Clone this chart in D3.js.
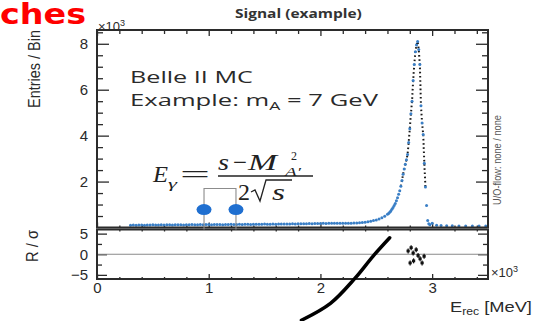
<!DOCTYPE html>
<html>
<head>
<meta charset="utf-8">
<script src="https://cdn.jsdelivr.net/npm/d3@7"></script>
<style>
  html, body { margin: 0; padding: 0; background: #fff; overflow: hidden; }
  svg { display: block; }
</style>
</head>
<body>
<svg id="chart" width="550" height="321"></svg>
<script>
// ---- data (energies in 10^3 MeV, entries in 10^3 per bin) ----
// broad low-energy part: fixed-width bins starting at lowBinStart
const lowBinStart = 0.30;
const lowBinWidth = 0.025;
const lowEntries = [
  0.10, 0.11, 0.10, 0.11, 0.11, 0.10, 0.11, 0.11, 0.12, 0.11, 0.11, 0.12, 0.11, 0.12,
  0.12, 0.11, 0.12, 0.12, 0.12, 0.11, 0.12, 0.12, 0.13, 0.12, 0.12, 0.13, 0.12, 0.13,
  0.13, 0.12, 0.13, 0.13, 0.13, 0.12, 0.13, 0.13, 0.14, 0.13, 0.13, 0.14, 0.13, 0.14,
  0.14, 0.13, 0.14, 0.14, 0.14, 0.14, 0.15, 0.14, 0.14, 0.15, 0.14, 0.15, 0.15, 0.15,
  0.15, 0.15, 0.16, 0.15, 0.16, 0.16, 0.16, 0.16, 0.17, 0.16, 0.17, 0.17, 0.17, 0.18,
  0.17, 0.18, 0.18, 0.19, 0.18, 0.19,
  0.18, 0.18, 0.19, 0.19, 0.20, 0.20, 0.21, 0.22, 0.23, 0.25, 0.27, 0.30, 0.33, 0.37,
  0.42, 0.49
];

// peak region, finer binning
const peakEnergy = [
  2.60, 2.61, 2.62, 2.63, 2.64, 2.65, 2.66, 2.67, 2.68, 2.69, 2.70, 2.71, 2.72, 2.73,
  2.74, 2.75, 2.76, 2.77, 2.78, 2.79, 2.80, 2.81, 2.82, 2.83, 2.84, 2.85, 2.86, 2.87,
  2.88, 2.89, 2.90, 2.91, 2.92, 2.93, 2.94, 2.95, 2.96
];
const peakEntries = [
  0.58, 0.61, 0.66, 0.72, 0.79, 0.87, 0.96, 1.05, 1.17, 1.30, 1.45, 1.60, 1.80, 2.05,
  2.32, 2.55, 2.75, 2.95, 3.18, 3.70, 4.30, 4.95, 5.50, 6.40, 7.10, 7.65, 7.95, 8.10,
  7.75, 7.10, 5.30, 4.55, 4.05, 2.80, 1.76, 0.96, 0.30
];

// high-energy tail
const tailEnergy = [2.97, 2.98, 3.00, 3.04, 3.08, 3.13, 3.18, 3.24, 3.30, 3.36, 3.42, 3.48];
const tailEntries = [0.16, 0.12, 0.18, 0.10, 0.09, 0.08, 0.08, 0.07, 0.07, 0.06, 0.06, 0.06];

// residuals R / sigma in the lower panel
const ratioEnergy = [2.785, 2.803, 2.812, 2.830, 2.834, 2.857, 2.874, 2.892, 2.910, 2.928];
const ratioPull   = [0.8, -2.1, 1.6, 0.3, -1.6, 1.1, -0.3, -1.1, -2.1, -0.5];

// overlaid annotation stroke (energy, R / sigma units)
const strokeEnergy = [1.83, 2.09, 2.31, 2.47, 2.62];
const strokePull   = [-16.0, -11.9, -5.8, -0.5, 4.0];

// photon energy markers with bracket
const markerEnergy = [0.958, 1.244];
const markerLevel = 0.78;
const bracketLevel = 1.70;

const entryTicks = [2, 4, 6, 8];
const pullTicks = [-5, 0, 5];
const energyTicks = [0, 1, 2, 3];

// ---- layout ----
const svg = d3.select('#chart');
const L = 97, R = 488;
const mainTop = 30, mainBottom = 227.5;
const ratTop = 229.5, ratBottom = 279;
const ink = '#2b2b2b';
const pointBlue = '#3a7fc6';

const x = d3.scaleLinear().domain([0, 3.5]).range([L, R]);
const y = d3.scaleLinear().domain([0, 8.6]).range([mainBottom, mainTop]);
const yr = d3.scaleLinear().domain([-6, 6]).range([ratBottom, ratTop]);

const sansFont = '"Liberation Sans", Arial, sans-serif';

// fit a text element to a given width by horizontal scaling
function fitWidth(sel, width, tx, ty, rotate) {
  const len = sel.node().getComputedTextLength();
  const s = width / len;
  sel.attr('transform', `translate(${tx},${ty})` + (rotate ? ` rotate(${rotate})` : '') + ` scale(${s},1)`);
}

// ---- red heading fragment ----
const heading = svg.append('text')
  .attr('font-family', '"DejaVu Sans", sans-serif')
  .attr('font-weight', 'bold')
  .attr('font-size', 29)
  .attr('fill', '#ff0000')
  .text('ches');
fitWidth(heading, 86, 0, 24);

// ---- title ----
const title = svg.append('text')
  .attr('font-family', '"Open Sans", sans-serif')
  .attr('font-weight', 'bold')
  .attr('font-size', 12)
  .attr('fill', '#333')
  .text('Signal (example)');
fitWidth(title, 127, 235, 18);

// ---- axes helpers ----
function styleAxis(g) {
  g.select('.domain').remove();
  g.selectAll('.tick line').attr('stroke', ink).attr('stroke-width', 1.3);
  g.selectAll('.tick text').attr('fill', '#2a2a2a').attr('font-family', sansFont).attr('font-size', 15);
}
function minorValues(lo, hi, step, majors) {
  return d3.range(lo, hi + 1e-9, step).filter(v => !majors.some(m => Math.abs(m - v) < 1e-6));
}

const energyMinor = minorValues(0, 3.5, 0.2, energyTicks);
const entryMinor = minorValues(0.5, 8.5, 0.5, entryTicks);
const pullMinor = [-2.5, 2.5];

// main panel, left
svg.append('g').attr('transform', `translate(${L},0)`)
  .call(d3.axisLeft(y).tickValues(entryTicks).tickSizeInner(-12).tickSizeOuter(0).tickPadding(9).tickFormat(d3.format('d')))
  .call(styleAxis);
svg.append('g').attr('transform', `translate(${L},0)`)
  .call(d3.axisLeft(y).tickValues(entryMinor).tickSizeInner(-6).tickSizeOuter(0).tickFormat(''))
  .call(styleAxis);
// main panel, right
svg.append('g').attr('transform', `translate(${R},0)`)
  .call(d3.axisRight(y).tickValues(entryTicks).tickSizeInner(-12).tickSizeOuter(0).tickFormat(''))
  .call(styleAxis);
svg.append('g').attr('transform', `translate(${R},0)`)
  .call(d3.axisRight(y).tickValues(entryMinor).tickSizeInner(-6).tickSizeOuter(0).tickFormat(''))
  .call(styleAxis);
// main panel, top
svg.append('g').attr('transform', `translate(0,${mainTop})`)
  .call(d3.axisTop(x).tickValues(energyTicks).tickSizeInner(-6).tickSizeOuter(0).tickFormat(''))
  .call(styleAxis);
svg.append('g').attr('transform', `translate(0,${mainTop})`)
  .call(d3.axisTop(x).tickValues(energyMinor).tickSizeInner(-4).tickSizeOuter(0).tickFormat(''))
  .call(styleAxis);
// main panel, bottom
svg.append('g').attr('transform', `translate(0,${mainBottom})`)
  .call(d3.axisBottom(x).tickValues(energyTicks).tickSizeInner(-5).tickSizeOuter(0).tickFormat(''))
  .call(styleAxis);
svg.append('g').attr('transform', `translate(0,${mainBottom})`)
  .call(d3.axisBottom(x).tickValues(energyMinor).tickSizeInner(-2).tickSizeOuter(0).tickFormat(''))
  .call(styleAxis);

// ratio panel, left
svg.append('g').attr('transform', `translate(${L},0)`)
  .call(d3.axisLeft(yr).tickValues(pullTicks).tickSizeInner(-10).tickSizeOuter(0).tickPadding(9)
    .tickFormat(d => d < 0 ? '\u2212' + Math.abs(d) : String(d)))
  .call(styleAxis);
svg.append('g').attr('transform', `translate(${L},0)`)
  .call(d3.axisLeft(yr).tickValues(pullMinor).tickSizeInner(-5).tickSizeOuter(0).tickFormat(''))
  .call(styleAxis);
// ratio panel, right
svg.append('g').attr('transform', `translate(${R},0)`)
  .call(d3.axisRight(yr).tickValues(pullTicks).tickSizeInner(-10).tickSizeOuter(0).tickFormat(''))
  .call(styleAxis);
svg.append('g').attr('transform', `translate(${R},0)`)
  .call(d3.axisRight(yr).tickValues(pullMinor).tickSizeInner(-5).tickSizeOuter(0).tickFormat(''))
  .call(styleAxis);
// ratio panel, bottom (with energy labels)
svg.append('g').attr('transform', `translate(0,${ratBottom})`)
  .call(d3.axisBottom(x).tickValues(energyTicks).tickSizeInner(-5).tickSizeOuter(0).tickPadding(3).tickFormat(d3.format('d')))
  .call(styleAxis)
  .call(g => g.selectAll('.tick text').attr('dy', '0.71em').attr('y', 3));
svg.append('g').attr('transform', `translate(0,${ratBottom})`)
  .call(d3.axisBottom(x).tickValues(energyMinor).tickSizeInner(-2).tickSizeOuter(0).tickFormat(''))
  .call(styleAxis);
// ratio panel, top
svg.append('g').attr('transform', `translate(0,${ratTop})`)
  .call(d3.axisTop(x).tickValues(energyMinor).tickSizeInner(-2).tickSizeOuter(0).tickFormat(''))
  .call(styleAxis);

// zero line in ratio panel
svg.append('line')
  .attr('x1', L).attr('x2', R)
  .attr('y1', yr(0)).attr('y2', yr(0))
  .attr('stroke', '#8a8a8a').attr('stroke-width', 1);

// ---- data marks ----
const lowPoints = lowEntries.map((v, i) => ({ e: lowBinStart + i * lowBinWidth, v }));
const peakPoints = peakEnergy.map((e, i) => ({ e, v: peakEntries[i] }));
const tailPoints = tailEnergy.map((e, i) => ({ e, v: tailEntries[i] }));
const allPoints = lowPoints.concat(peakPoints, tailPoints);

// dotted connection through the steep part of the peak
const steep = peakPoints.filter(d => d.v >= 1.7);
svg.append('path')
  .datum(steep)
  .attr('d', d3.line().x(d => x(d.e)).y(d => y(d.v)))
  .attr('fill', 'none')
  .attr('stroke', '#1a1a1a')
  .attr('stroke-width', 2)
  .attr('stroke-dasharray', '1.6,2.6');

svg.append('g')
  .selectAll('circle')
  .data(allPoints)
  .join('circle')
  .attr('cx', d => x(d.e))
  .attr('cy', d => y(d.v))
  .attr('r', 1.5)
  .attr('fill', pointBlue);

// residual markers
const rg = svg.append('g');
ratioEnergy.forEach((e, i) => {
  const cx = x(e), cy = yr(ratioPull[i]);
  rg.append('line').attr('x1', cx).attr('x2', cx).attr('y1', cy - 2.5).attr('y2', cy + 2.5)
    .attr('stroke', '#111').attr('stroke-width', 1.2);
  rg.append('rect').attr('x', cx - 1.6).attr('y', cy - 1.4).attr('width', 3.2).attr('height', 2.8)
    .attr('fill', '#111');
});

// ---- frames ----
[[mainTop, mainBottom], [ratTop, ratBottom]].forEach(([t, b]) => {
  svg.append('rect')
    .attr('x', L).attr('y', t)
    .attr('width', R - L).attr('height', b - t)
    .attr('fill', 'none')
    .attr('stroke', ink)
    .attr('stroke-width', 2);
});

// ---- axis titles ----
const yTitle = svg.append('text')
  .attr('font-family', sansFont).attr('font-size', 16).attr('fill', '#2a2a2a')
  .attr('text-anchor', 'middle')
  .text('Entries / Bin');
fitWidth(yTitle, 78, 40, 69, -90);

const rTitle = svg.append('text')
  .attr('font-family', sansFont).attr('font-size', 16).attr('fill', '#2a2a2a')
  .attr('text-anchor', 'middle')
  .text('R / \u03c3');
fitWidth(rTitle, 32, 38, 246, -90);

const xTitle = svg.append('text')
  .attr('font-family', sansFont).attr('font-size', 15).attr('fill', '#2a2a2a');
xTitle.append('tspan').text('E');
xTitle.append('tspan').attr('font-size', 10).attr('dy', 3).text('rec');
xTitle.append('tspan').attr('dy', -3).text(' [MeV]');
fitWidth(xTitle, 82, 450, 312);

// exponent labels
function exponentLabel(tx, ty) {
  const t = svg.append('text')
    .attr('font-family', sansFont).attr('font-size', 13).attr('fill', '#2a2a2a')
    .attr('x', tx).attr('y', ty);
  t.append('tspan').text('\u00d710');
  t.append('tspan').attr('font-size', 9).attr('dy', -5).text('3');
}
exponentLabel(98, 31);
exponentLabel(491, 277);

// overflow note
const ouf = svg.append('text')
  .attr('font-family', '"Liberation Sans Narrow", "Liberation Sans", sans-serif')
  .attr('font-size', 10).attr('fill', '#555')
  .attr('text-anchor', 'middle')
  .text('U/O-flow: none / none');
fitWidth(ouf, 90, 501, 160, -90);

// ---- in-plot labels ----
const lab1 = svg.append('text')
  .attr('font-family', '"Open Sans", sans-serif').attr('font-size', 16).attr('fill', '#2a2a2a')
  .text('Belle II MC');
fitWidth(lab1, 123, 130, 83);

const lab2 = svg.append('text')
  .attr('font-family', '"Open Sans", sans-serif').attr('font-size', 16).attr('fill', '#2a2a2a');
lab2.append('tspan').text('Example: m');
lab2.append('tspan').attr('font-size', 11).attr('dy', 4).text('A');
lab2.append('tspan').attr('dy', -4).text(' = 7 GeV');
fitWidth(lab2, 248, 130, 106);

// ---- formula E_gamma = (s - M^2_A') / (2 sqrt(s)) ----
const serif = '"Liberation Serif", "DejaVu Serif", serif';
const fg = svg.append('g').attr('font-family', serif).attr('fill', '#222');
function ftext(str, width, tx, ty, size, italic) {
  const t = fg.append('text').attr('font-size', size).attr('font-style', italic ? 'italic' : 'normal').text(str);
  fitWidth(t, width, tx, ty);
  return t;
}
ftext('E', 15, 153, 182, 23, true);
ftext('\u03b3', 9, 168, 188, 13, true);
ftext('=', 30, 180, 182, 23, false);
ftext('s', 11, 218, 170, 23, true);
ftext('\u2212', 14, 233, 170, 23, false);
ftext('M', 29, 248, 170, 24, true);
ftext('2', 6, 291, 160, 12, false);
ftext('A\u2032', 16, 285, 176, 12, true);
fg.append('line').attr('x1', 218).attr('x2', 313).attr('y1', 176).attr('y2', 176)
  .attr('stroke', '#222').attr('stroke-width', 1.3);
ftext('2', 12, 238, 200, 23, false);
ftext('s', 13, 272, 200, 23, true);
fg.append('path')
  .attr('d', 'M251,192 L255,190 L260,201 L266,180 L292,180')
  .attr('fill', 'none').attr('stroke', '#222').attr('stroke-width', 1.3);

// ---- photon energy markers with bracket ----
const bracket = d3.path();
bracket.moveTo(x(markerEnergy[0]), ratTop);
bracket.lineTo(x(markerEnergy[0]), y(bracketLevel));
bracket.lineTo(x(markerEnergy[1]), y(bracketLevel));
bracket.lineTo(x(markerEnergy[1]), ratTop);
svg.append('path').attr('d', bracket.toString())
  .attr('fill', 'none').attr('stroke', '#8c8c8c').attr('stroke-width', 1.1);
svg.append('g').selectAll('ellipse')
  .data(markerEnergy)
  .join('ellipse')
  .attr('cx', d => x(d)).attr('cy', y(markerLevel))
  .attr('rx', 7.5).attr('ry', 5.5)
  .attr('fill', '#1f6fd0');

// ---- overlaid stroke ----
svg.append('path')
  .datum(strokeEnergy.map((e, i) => [e, strokePull[i]]))
  .attr('d', d3.line().x(d => x(d[0])).y(d => yr(d[1])).curve(d3.curveCatmullRom))
  .attr('fill', 'none').attr('stroke', '#000').attr('stroke-width', 3.5)
  .attr('stroke-linecap', 'round');
</script>
</body>
</html>
